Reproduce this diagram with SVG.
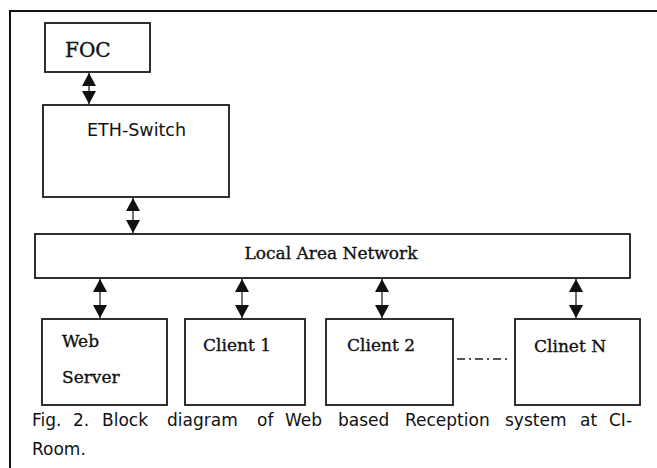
<svg xmlns="http://www.w3.org/2000/svg" width="657" height="468" viewBox="0 0 657 468">
<style>
.box{fill:#fff;stroke:#1a1a1a;stroke-width:1.8}
.lbl{font-family:"DejaVu Serif","Liberation Serif",serif;font-size:17px;fill:#111;stroke:#111;stroke-width:0.35}
.sans{font-family:"DejaVu Sans","Liberation Sans",sans-serif;fill:#111}
.conn{stroke:#111;stroke-width:1.2;fill:none;marker-start:url(#ah);marker-end:url(#ah)}
</style>
<defs>
<marker id="ah" markerUnits="userSpaceOnUse" viewBox="0 0 13 14" markerWidth="13" markerHeight="14" refX="13" refY="7" orient="auto-start-reverse">
<path d="M0,0 L13,7 L0,14 z" fill="#111"/>
</marker>
</defs>
<rect width="657" height="468" fill="#fff"/>
<g id="frame">
<path d="M10,469 V11 H658" fill="none" stroke="#111" stroke-width="2"/>
</g>
<g id="connectors">
<line class="conn" x1="89" y1="73" x2="89" y2="104"/>
<line class="conn" x1="133" y1="198" x2="133" y2="233"/>
<line class="conn" x1="100" y1="279" x2="100" y2="318"/>
<line class="conn" x1="242" y1="279" x2="242" y2="318"/>
<line class="conn" x1="382" y1="279" x2="382" y2="318"/>
<line class="conn" x1="576" y1="279" x2="576" y2="318"/>
<line x1="457" y1="359" x2="511" y2="359" stroke="#555" stroke-width="2" stroke-dasharray="8 4 2 4"/>
</g>
<g id="foc">
<rect class="box" x="45" y="23" width="105" height="49"/>
<text class="lbl" x="65" y="57" style="font-size:20px">FOC</text>
</g>
<g id="eth-switch">
<rect class="box" x="43" y="105" width="186" height="92"/>
<text class="sans" x="87" y="136" font-size="17.5">ETH-Switch</text>
</g>
<g id="lan">
<rect class="box" x="35" y="234" width="595" height="44"/>
<text class="lbl" x="331" y="259" text-anchor="middle">Local Area Network</text>
</g>
<g id="web-server">
<rect class="box" x="42" y="319" width="125" height="86"/>
<text class="lbl" x="62" y="347">Web</text>
<text class="lbl" x="62" y="383">Server</text>
</g>
<g id="client1">
<rect class="box" x="185" y="319" width="120" height="86"/>
<text class="lbl" x="203" y="351">Client 1</text>
</g>
<g id="client2">
<rect class="box" x="326" y="319" width="127" height="86"/>
<text class="lbl" x="347" y="351">Client 2</text>
</g>
<g id="clientN">
<rect class="box" x="515" y="319" width="125" height="86"/>
<text class="lbl" x="534" y="352">Clinet N</text>
</g>
<g id="caption">
<text class="sans" y="426" font-size="17"><tspan x="32">Fig.</tspan><tspan x="73">2.</tspan><tspan x="102">Block</tspan><tspan x="167">diagram</tspan><tspan x="257">of</tspan><tspan x="285">Web</tspan><tspan x="338">based</tspan><tspan x="405">Reception</tspan><tspan x="505">system</tspan><tspan x="580">at</tspan><tspan x="609">CI-</tspan></text>
<text class="sans" x="32" y="455" font-size="17">Room.</text>
</g>
</svg>
